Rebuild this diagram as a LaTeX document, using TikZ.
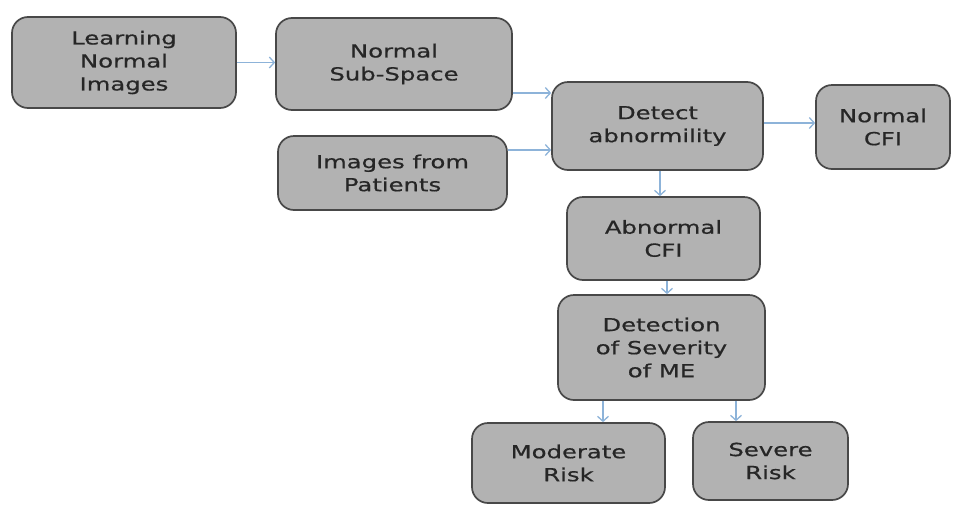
\documentclass[tikz,border=0pt]{standalone}
\usepackage{fontspec}
\newfontfamily\boxfont{DejaVu Sans}[FakeStretch=1.35,FakeBold=0.6]
\usetikzlibrary{arrows.meta,calc}
\definecolor{boxfill}{HTML}{B2B2B2}
\definecolor{boxline}{HTML}{484848}
\definecolor{arrowblue}{HTML}{8DB3D9}
\definecolor{textgray}{HTML}{262626}
\tikzset{
  box/.style={draw=boxline, line width=1.7pt, fill=boxfill, rounded corners=16pt,
    align=center, inner sep=0pt, text=textgray,
    font=\boxfont\fontsize{18}{23}\selectfont},
  flow/.style={draw=arrowblue, line width=1.3pt,
    -{Straight Barb[length=5pt,width=11pt,line width=1.3pt]}}
}
\begin{document}
\begin{tikzpicture}[x=1pt,y=-1pt]
\useasboundingbox (0,0) rectangle (962,504);
\fill[white] (0,0) rectangle (962,504);
\node[box, minimum width=224pt, minimum height=91pt] (learn) at (124,62.5) {Learning\\Normal\\Images};
\node[box, minimum width=236pt, minimum height=92pt] (nss) at (394,64) {Normal\\Sub-Space};
\node[box, minimum width=229pt, minimum height=74pt] (pat) at (392.5,173) {Images from\\Patients};
\node[box, minimum width=211pt, minimum height=88pt] (det) at (657.5,126) {Detect\\abnormility};
\node[box, minimum width=134pt, minimum height=84pt] (ncfi) at (883,127) {Normal\\CFI};
\node[box, minimum width=193pt, minimum height=83pt] (acfi) at (663.5,238.5) {Abnormal\\CFI};
\node[box, minimum width=207pt, minimum height=105pt] (sev) at (661.5,347.5) {Detection\\of Severity\\of ME};
\node[box, minimum width=193pt, minimum height=80pt] (mod) at (568.5,463) {Moderate\\Risk};
\node[box, minimum width=155pt, minimum height=78pt] (sevr) at (770.5,461) {Severe\\Risk};

\draw[flow] (learn.east) -- (learn.east -| nss.west);
\draw[flow] ([yshift=-29pt]nss.east) -- ([yshift=-29pt]nss.east -| det.west);
\draw[flow] ([yshift=23pt]pat.east) -- ([yshift=23pt]pat.east -| det.west);
\draw[flow] ([yshift=3pt]det.east) -- ([yshift=3pt]det.east -| ncfi.west);
\draw[flow] ([xshift=2.5pt]det.south) -- ([xshift=2.5pt]det.south |- acfi.north);
\draw[flow] ([xshift=3.5pt]acfi.south) -- ([xshift=3.5pt]acfi.south |- sev.north);
\draw[flow] ([xshift=-58.5pt]sev.south) -- ([xshift=-58.5pt]sev.south |- mod.north);
\draw[flow] ([xshift=74.5pt]sev.south) -- ([xshift=74.5pt]sev.south |- sevr.north);
\end{tikzpicture}
\end{document}
